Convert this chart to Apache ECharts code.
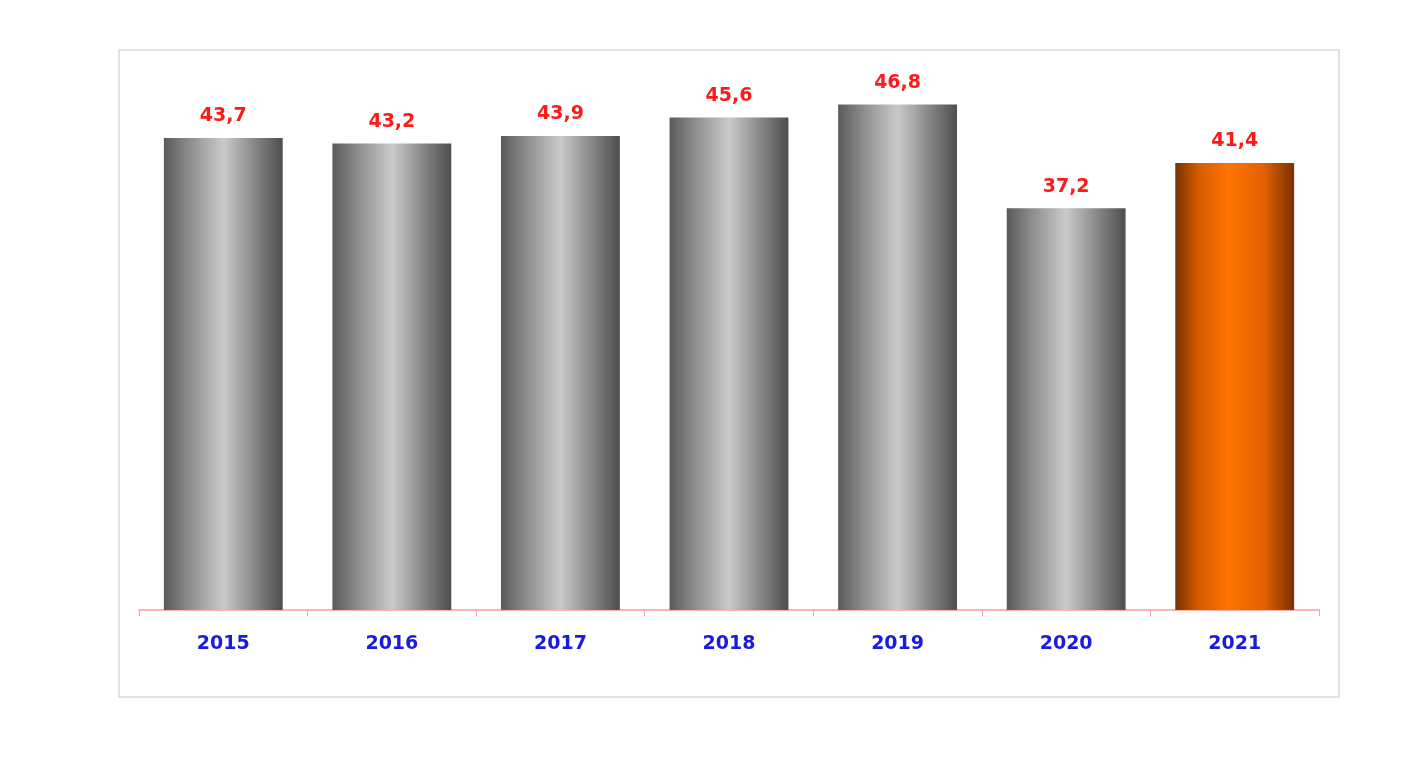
<!DOCTYPE html>
<html><head><meta charset="utf-8">
<script src="https://cdn.jsdelivr.net/npm/echarts@6/dist/echarts.min.js"></script>
<style>html,body{margin:0;padding:0;background:#fff}#c{width:1414px;height:776px}</style>
</head><body><div id="c"></div>
<script>
const categories = ['2015','2016','2017','2018','2019','2020','2021'];
const values = [43.7, 43.2, 43.9, 45.6, 46.8, 37.2, 41.4];
const highlightIndex = 6;

const grey = new echarts.graphic.LinearGradient(0,0,1,0,[
  {offset:0,color:'#5a5a5a'},{offset:0.2,color:'#8a8a8a'},{offset:0.5,color:'#cacaca'},
  {offset:0.8,color:'#7e7e7e'},{offset:1,color:'#4e4e4e'}]);
const orange = new echarts.graphic.LinearGradient(0,0,1,0,[
  {offset:0,color:'#7a3200'},{offset:0.2,color:'#d65c00'},{offset:0.45,color:'#ff7400'},
  {offset:0.75,color:'#e06000'},{offset:1,color:'#7a3000'}]);

const chart = echarts.init(document.getElementById('c'));
chart.setOption({
  backgroundColor:'#fff',
  animation:false,
  graphic:[{type:'rect',shape:{x:119,y:50,width:1220,height:647},style:{fill:'none',stroke:'#d9d9d9',lineWidth:1.5},silent:true}],
  grid:{left:139,right:95,top:70,bottom:166},
  xAxis:{type:'category',data:categories,
    axisLine:{lineStyle:{color:'#ff9a9a',width:1.5}},
    axisTick:{show:true,length:6,lineStyle:{color:'#ff9a9a'}},
    axisLabel:{color:'#1a1ae0',fontFamily:'DejaVu Sans',fontWeight:'bold',fontSize:19,margin:25}},
  yAxis:{type:'value',min:0,max:50,show:false,splitLine:{show:false}},
  series:[{type:'bar',barWidth:'70.5%',
    data:values.map((v,i)=>({value:v,itemStyle:{color:i===highlightIndex?orange:grey}})),
    label:{show:true,position:'top',distance:12,color:'#ff1a1a',fontFamily:'DejaVu Sans',fontWeight:'bold',fontSize:19,
      formatter:p=>p.value.toFixed(1).replace('.',',')}}]
});
</script></body></html>
